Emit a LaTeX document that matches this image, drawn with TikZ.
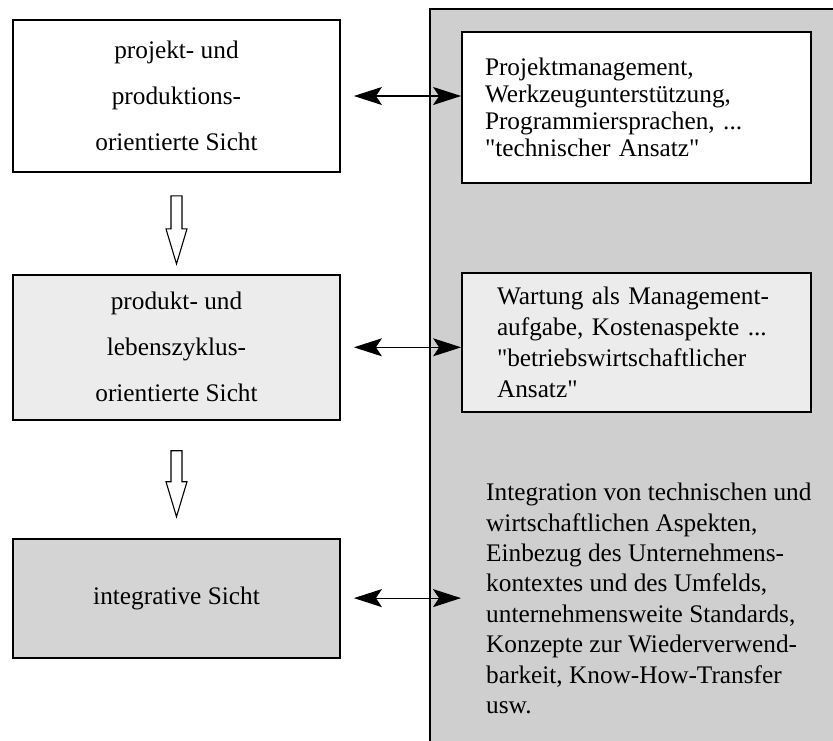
\documentclass[tikz,border=0pt]{standalone}
\usepackage{fontspec}
\setmainfont{Liberation Serif}[Ligatures=TeXOff]
\usepackage{tikz}
\usetikzlibrary{arrows.meta,positioning,calc}

\definecolor{panelgray}{gray}{0.81}
\definecolor{lightgray}{gray}{0.925}
\definecolor{midgray}{gray}{0.83}

\begin{document}
\begin{tikzpicture}[
    x=1pt, y=-1pt,
    view/.style={rectangle, draw, line width=1.8pt, minimum width=327pt, align=center,
        font=\fontsize{25.3}{46}\selectfont},
    note/.style={rectangle, draw, line width=1.8pt, minimum width=349pt, align=left,
        font=\fontsize{25.3}{27}\selectfont},
    link/.style={{Stealth[length=28pt,width=18pt,inset=6pt]}-{Stealth[length=28pt,width=18pt,inset=6pt]},
        line width=1.1pt, shorten <=13pt},
    hollow/.style={draw, fill=white, line width=1.1pt, line join=miter}
]
    \clip (0,0) rectangle (833,740);

    % grey panel on the right
    \fill[panelgray] (430,9) rectangle (850,760);
    \draw[line width=1.8pt] (430,760) -- (430,9) -- (850,9);

    % views on the left
    \node[view, minimum height=152pt] at (176.5,96) (projekt)
        {projekt- und\\produktions-\\orientierte Sicht};
    \node[view, fill=lightgray, minimum height=145pt, below=101pt of projekt] (produkt)
        {produkt- und\\lebenszyklus-\\orientierte Sicht};
    \node[view, fill=midgray, minimum height=119pt, below=117pt of produkt] (integrativ)
        {integrative Sicht};

    % notes on the right
    \node[note, fill=white, minimum height=151pt, inner xsep=23pt, text width=303pt] at (636.5,107.5) (technisch)
        {Projektmanagement,\\Werkzeugunterst\"utzung,\\Programmiersprachen, ...\\"technischer Ansatz"};
    \node[note, fill=lightgray, minimum height=139pt, inner xsep=35pt, text width=279pt,
        font=\fontsize{25.3}{31}\selectfont] at (636.5,342.5) (betrieb)
        {Wartung als Management-\\aufgabe, Kostenaspekte ...\\"betriebswirtschaftlicher\\Ansatz"};
    \node[align=left, inner xsep=25pt, anchor=west, font=\fontsize{25.3}{30.4}\selectfont] at (461,598.5) (integration)
        {Integration von technischen und\\wirtschaftlichen Aspekten,\\Einbezug des Unternehmens-\\kontextes und des Umfelds,\\unternehmensweite Standards,\\Konzepte zur Wiederverwend-\\barkeit, Know-How-Transfer\\usw.};

    % double arrows
    \draw[link] (projekt.east) -- (projekt.east -| technisch.west);
    \draw[link] (produkt.east) -- (produkt.east -| betrieb.west);
    \draw[link] (integrativ.east) -- (integrativ.east -| integration.west);

    % hollow block arrows
    \draw[hollow] ($(projekt.south)+(-5.5,23)$) -- ++(0,33) -- ++(-5,0) -- ++(10.5,35)
        -- ++(10.5,-35) -- ++(-5,0) -- ++(0,-33) -- cycle;
    \draw[hollow] ($(produkt.south)+(-5.5,30)$) -- ++(0,31) -- ++(-5,0) -- ++(10.5,35)
        -- ++(10.5,-35) -- ++(-5,0) -- ++(0,-31) -- cycle;
\end{tikzpicture}
\end{document}
